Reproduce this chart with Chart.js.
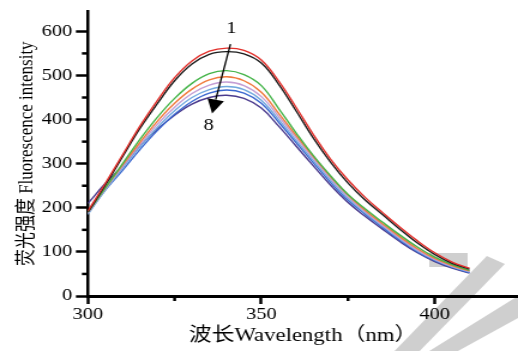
<!DOCTYPE html>
<html>
<head>
<meta charset="utf-8">
<script src="https://cdn.jsdelivr.net/npm/chart.js@4.4.0/dist/chart.umd.min.js"></script>
<style>
  html, body { margin: 0; padding: 0; background: #fff; }
  /* the reference figure is stretched sideways, so the canvas is too */
  #chart { display: block; width: 518px !important; height: 351px !important; }
</style>
</head>
<body>
<canvas id="chart" width="432" height="351" style="width:518px;height:351px"></canvas>
<script>
// wavelength (nm)
const wavelengths = [300, 305, 310, 315, 320, 325, 330, 335, 340, 345, 350, 355,
                     360, 365, 370, 375, 380, 385, 390, 395, 400, 405, 410];

// fluorescence intensity, curves 1..8
const curve1 = [193, 255, 320, 385, 443, 495, 533, 555, 562, 557, 535, 487, 428, 366, 310, 263, 223, 189, 156, 125, 98, 77, 63];
const curve2 = [190, 251, 316, 380, 436, 488, 526, 548, 554, 549, 528, 480, 420, 358, 303, 256, 217, 184, 151, 120, 94, 74, 61];
const curve3 = [190, 245, 300, 355, 405, 448, 482, 504, 511, 502, 477, 425, 370, 318, 272, 230, 197, 167, 138, 111, 88, 71, 58];
const curve4 = [190, 245, 297, 348, 396, 437, 469, 490, 497, 488, 462, 414, 364, 316, 270, 229, 194, 163, 134, 107, 85, 69, 57];
const curve5 = [188, 243, 294, 343, 389, 428, 459, 478, 485, 477, 452, 407, 359, 312, 266, 225, 191, 160, 131, 104, 83, 67, 56];
const curve6 = [185, 240, 290, 338, 382, 420, 450, 468, 475, 468, 444, 400, 353, 307, 262, 221, 188, 158, 129, 102, 82, 66, 55];
const curve7 = [188, 240, 285, 332, 375, 412, 441, 460, 467, 460, 437, 394, 348, 302, 257, 217, 185, 155, 126, 100, 80, 65, 53];
const curve8 = [210, 255, 295, 340, 378, 410, 435, 450, 455, 448, 426, 385, 340, 295, 251, 212, 180, 151, 123, 98, 78, 63, 52];

const seriesNames = ["1", "2", "3", "4", "5", "6", "7", "8"];
const seriesValues = [curve1, curve2, curve3, curve4, curve5, curve6, curve7, curve8];
const seriesColors = ["#e2302b", "#1c1c1c", "#45b449", "#f07a3c", "#c49ed4", "#72a9de", "#3b67cf", "#4b3b8d"];

const xTicks = [300, 350, 400];
const xMinorTicks = [325, 375];
const yTicks = [0, 100, 200, 300, 400, 500, 600];
const yMinorTicks = [50, 150, 250, 350, 450, 550];

const serif = "'Liberation Serif', 'Noto Sans CJK SC', serif";

let datasets = seriesValues.map((vals, i) => ({
    label: seriesNames[i],
    data: wavelengths.map((w, j) => ({ x: w, y: vals[j] })),
    borderColor: seriesColors[i],
    borderWidth: 1.4,
    pointRadius: 0,
    fill: false,
    tension: 0.4
}));

// watermark, minor ticks and the 1 -> 8 arrow
const extras = {
    id: "extras",
    beforeDraw(chart) {
        let ctx = chart.ctx;
        ctx.save();
        ctx.fillStyle = "#cfcfcf";
        [
            [[329, 351], [406, 256], [421, 264], [350, 351]],
            [[358, 351], [432, 296], [432, 318], [382, 351]],
            [[358, 253], [390, 253], [390, 267], [358, 267]]
        ].forEach(poly => {
            ctx.beginPath();
            poly.forEach((p, k) => k ? ctx.lineTo(p[0], p[1]) : ctx.moveTo(p[0], p[1]));
            ctx.closePath();
            ctx.fill();
        });
        ctx.restore();
    },
    afterDraw(chart) {
        let ctx = chart.ctx;
        let x = chart.scales.x, y = chart.scales.y;
        ctx.save();
        ctx.strokeStyle = "#000";
        ctx.lineWidth = 2.5;
        xMinorTicks.forEach(v => {
            let px = x.getPixelForValue(v);
            ctx.beginPath();
            ctx.moveTo(px, y.bottom);
            ctx.lineTo(px, y.bottom + 5);
            ctx.stroke();
        });
        yMinorTicks.forEach(v => {
            let py = y.getPixelForValue(v);
            ctx.beginPath();
            ctx.moveTo(x.left, py);
            ctx.lineTo(x.left - 5, py);
            ctx.stroke();
        });

        // arrow from curve 1 down to curve 8
        let x0 = x.getPixelForValue(341.1), y0 = y.getPixelForValue(571);
        let x1 = x.getPixelForValue(335.8), y1 = y.getPixelForValue(414);
        let ang = Math.atan2(y1 - y0, x1 - x0);
        let headLen = 14, headHalf = 7;
        let bx = x1 - headLen * Math.cos(ang), by = y1 - headLen * Math.sin(ang);
        ctx.lineWidth = 1.3;
        ctx.beginPath();
        ctx.moveTo(x0, y0);
        ctx.lineTo(bx, by);
        ctx.stroke();
        ctx.fillStyle = "#000";
        ctx.beginPath();
        ctx.moveTo(x1, y1);
        ctx.lineTo(bx + headHalf * Math.sin(ang), by - headHalf * Math.cos(ang));
        ctx.lineTo(bx - headHalf * Math.sin(ang), by + headHalf * Math.cos(ang));
        ctx.closePath();
        ctx.fill();

        ctx.font = "17px " + serif;
        ctx.textAlign = "center";
        ctx.textBaseline = "middle";
        ctx.fillText("1", x.getPixelForValue(341.4), y.getPixelForValue(607));
        ctx.fillText("8", x.getPixelForValue(334.8), y.getPixelForValue(386));
        ctx.restore();
    }
};

new Chart(document.getElementById("chart"), {
    type: "line",
    data: { datasets: datasets },
    plugins: [extras],
    options: {
        responsive: false,
        animation: false,
        layout: { padding: { top: 9, left: 0, right: 0, bottom: 0 } },
        plugins: {
            legend: { display: false },
            tooltip: { enabled: false }
        },
        scales: {
            x: {
                type: "linear",
                min: 300,
                max: 424,
                afterBuildTicks: s => { s.ticks = xTicks.map(v => ({ value: v })); },
                afterFit: s => { s.height = 55; },
                border: { display: true, color: "#000", width: 3 },
                grid: { drawOnChartArea: false, drawTicks: true, tickLength: 8, tickWidth: 2.5, tickColor: "#000" },
                ticks: { color: "#000", padding: 2, maxRotation: 0, font: { family: serif, size: 17, lineHeight: 1 } },
                title: {
                    display: true,
                    text: "波长Wavelength（nm）",
                    color: "#000",
                    font: { family: serif, size: 19 },
                    padding: { top: 0, bottom: 4 }
                }
            },
            y: {
                min: 0,
                max: 645,
                afterBuildTicks: s => { s.ticks = yTicks.map(v => ({ value: v })); },
                afterFit: s => { s.width = 73.3; },
                border: { display: true, color: "#000", width: 2.5 },
                grid: { drawOnChartArea: false, drawTicks: true, tickLength: 10, tickWidth: 2.5, tickColor: "#000" },
                ticks: { color: "#000", padding: 3, font: { family: serif, size: 17, lineHeight: 1 } },
                title: {
                    display: true,
                    text: "荧光强度 Fluorescence intensity",
                    color: "#000",
                    font: { family: serif, size: 17 },
                    padding: { top: 12, bottom: 0 }
                }
            }
        }
    }
});
</script>
</body>
</html>
